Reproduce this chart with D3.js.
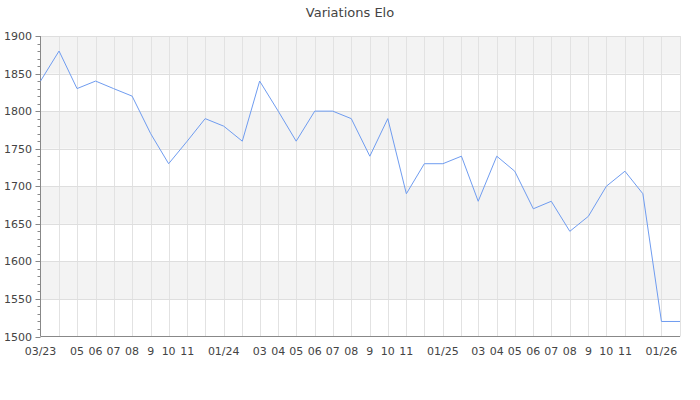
<!DOCTYPE html>
<html>
<head>
<meta charset="utf-8">
<script src="https://cdn.jsdelivr.net/npm/d3@7"></script>
<style>
  body { margin: 0; background: #fff; }
  svg { font-family: "DejaVu Sans", sans-serif; }
</style>
</head>
<body>
<svg id="chart"></svg>
<script>
// monthly elo readings, first of each month
const months = [
  "2023-03", "2023-04", "2023-05", "2023-06", "2023-07", "2023-08", "2023-09", "2023-10", "2023-11", "2023-12",
  "2024-01", "2024-02", "2024-03", "2024-04", "2024-05", "2024-06", "2024-07", "2024-08", "2024-09", "2024-10", "2024-11", "2024-12",
  "2025-01", "2025-02", "2025-03", "2025-04", "2025-05", "2025-06", "2025-07", "2025-08", "2025-09", "2025-10", "2025-11", "2025-12",
  "2026-01", "2026-02"
];
const elo = [
  1840, 1880, 1830, 1840, 1830, 1820, 1770, 1730, 1760, 1790,
  1780, 1760, 1840, 1800, 1760, 1800, 1800, 1790, 1740, 1790, 1690, 1730,
  1730, 1740, 1680, 1740, 1720, 1670, 1680, 1640, 1660, 1700, 1720, 1690,
  1520, 1520
];
// labels shown under each month gridline ("" = hidden)
const tickLabels = [
  "03/23", "", "05", "06", "07", "08", "9", "10", "11", "",
  "01/24", "", "03", "04", "05", "06", "07", "08", "9", "10", "11", "",
  "01/25", "", "03", "04", "05", "06", "07", "08", "9", "10", "11", "",
  "01/26", ""
];
const yTicks = [1500, 1550, 1600, 1650, 1700, 1750, 1800, 1850, 1900];

const width = 700, height = 400;
const mLeft = 40.5, mRight = 680, mTop = 36, mBottom = 336.5;

const parse = d3.timeParse("%Y-%m");
const data = months.map((m, i) => ({ date: parse(m), value: elo[i] }));

const svg = d3.select("#chart").attr("width", width).attr("height", height);

const x = d3.scaleTime()
  .domain([data[0].date, data[data.length - 1].date])
  .range([mLeft, mRight]);
const y = d3.scaleLinear().domain([1500, 1900]).range([mBottom, mTop]);

// alternating bands
const bands = yTicks.slice(0, -1).filter((v, i) => i % 2 === 1);
svg.append("g").selectAll("rect")
  .data(bands)
  .join("rect")
  .attr("x", mLeft)
  .attr("width", mRight - mLeft)
  .attr("y", (d) => y(d + 50))
  .attr("height", (d) => y(d) - y(d + 50))
  .attr("fill", "#f3f3f3");

// vertical grid
svg.append("g").selectAll("line")
  .data(data.slice(1))
  .join("line")
  .attr("x1", (d) => Math.round(x(d.date)) + 0.5)
  .attr("x2", (d) => Math.round(x(d.date)) + 0.5)
  .attr("y1", mTop)
  .attr("y2", mBottom)
  .attr("stroke", "#e2e2e2");

// horizontal grid
svg.append("g").selectAll("line")
  .data(yTicks.slice(1))
  .join("line")
  .attr("x1", mLeft)
  .attr("x2", mRight)
  .attr("y1", (d) => Math.round(y(d)) + 0.5)
  .attr("y2", (d) => Math.round(y(d)) + 0.5)
  .attr("stroke", "#dedede");

// y axis with minor ticks
const minor = d3.range(1500, 1901, 10);
const yAxis = svg.append("g");
yAxis.append("line")
  .attr("x1", mLeft).attr("x2", mLeft)
  .attr("y1", mTop).attr("y2", mBottom)
  .attr("stroke", "#888");
yAxis.selectAll(".minor")
  .data(minor)
  .join("line")
  .attr("class", "minor")
  .attr("x1", (d) => d % 50 === 0 ? mLeft - 5 : mLeft - 3)
  .attr("x2", mLeft)
  .attr("y1", (d) => Math.round(y(d)) + 0.5)
  .attr("y2", (d) => Math.round(y(d)) + 0.5)
  .attr("stroke", "#888");
yAxis.selectAll("text")
  .data(yTicks)
  .join("text")
  .attr("x", 32)
  .attr("y", (d) => y(d) + 4)
  .attr("text-anchor", "end")
  .attr("font-size", 11)
  .attr("fill", "#444")
  .text((d) => d);

// x axis
svg.append("line")
  .attr("x1", mLeft).attr("x2", mRight)
  .attr("y1", mBottom).attr("y2", mBottom)
  .attr("stroke", "#888");
svg.append("g").selectAll("text")
  .data(data)
  .join("text")
  .attr("x", (d) => x(d.date))
  .attr("y", 355)
  .attr("text-anchor", "middle")
  .attr("font-size", 11)
  .attr("fill", "#444")
  .text((d, i) => tickLabels[i]);

// line
const line = d3.line()
  .x((d) => x(d.date))
  .y((d) => y(d.value));
svg.append("path")
  .datum(data)
  .attr("d", line)
  .attr("fill", "none")
  .attr("stroke", "#6f9cf0")
  .attr("stroke-width", 1);

// title
svg.append("text")
  .attr("x", 350)
  .attr("y", 17)
  .attr("text-anchor", "middle")
  .attr("font-size", 13)
  .attr("fill", "#444")
  .text("Variations Elo");
</script>
</body>
</html>
